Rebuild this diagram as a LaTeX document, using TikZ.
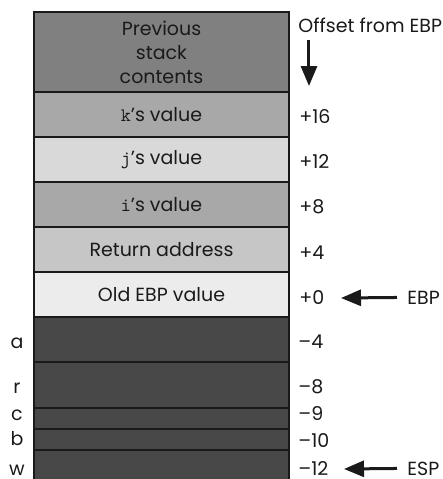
\documentclass[tikz,border=0pt]{standalone}
\usepackage{fontspec}
\setmainfont{Poppins}
\usetikzlibrary{positioning,arrows.meta}
\definecolor{ink}      {HTML}{1A1A1A}
\definecolor{oldstack} {HTML}{808080}
\definecolor{argdark}  {HTML}{A8A8A8}
\definecolor{arglight} {HTML}{D9D9D9}
\definecolor{retfill}  {HTML}{C6C6C6}
\definecolor{ebpfill}  {HTML}{ECECEC}
\definecolor{localfill}{HTML}{484848}
\tikzset{
  every node/.style={font=\fontsize{9.5}{12}\selectfont, text=ink},
  % --- nodes
  cell/.style  = {draw=ink, line width=1pt, minimum width=127.5pt, outer sep=0pt,
                  inner sep=0pt, align=center},
  slot/.style  = {cell, minimum height=22.5pt},
  local/.style = {cell, fill=localfill},
  off/.style   = {inner sep=0pt, anchor=base west},
  var/.style   = {inner sep=0pt, anchor=base},
  % --- edges
  ptr/.style   = {-{Triangle[length=10pt,width=8pt]}, line width=1.5pt, draw=ink},
}
\begin{document}
\begin{tikzpicture}[x=0.5pt,y=-0.5pt]
  \clip (0,0) rectangle (443,479);
  \fill[white] (0,0) rectangle (443,479);
  % stack frame
  \node[cell, fill=oldstack, minimum height=40pt] (prev) at (161.5,52) {Previous\\stack\\contents};
  \node[slot, fill=argdark,  below=0pt of prev] (kval) {\texttt{k}’s value};
  \node[slot, fill=arglight, below=0pt of kval] (jval) {\texttt{j}’s value};
  \node[slot, fill=argdark,  below=0pt of jval] (ival) {\texttt{i}’s value};
  \node[slot, fill=retfill,  below=0pt of ival] (ret) {Return address};
  \node[slot, fill=ebpfill,  below=0pt of ret] (oldebp) {Old EBP value};
  \node[local, minimum height=22.5pt,  below=0pt of oldebp] (avar) {};
  \node[local, minimum height=23pt,    below=0pt of avar] (rvar) {};
  \node[local, minimum height=10.25pt, below=0pt of rvar] (cvar) {};
  \node[local, minimum height=10.75pt, below=0pt of cvar] (bvar) {};
  \node[local, minimum height=20pt,    below=0pt of bvar] (wvar) {};
  % offsets
  \node[off] (title) at (298,32) {Offset from EBP};
  \node[off] (o16) at (299,123) {+16};
  \node[off] (o12) at (299,168) {+12};
  \node[off] (o8)  at (299,213) {+8};
  \node[off] (o4)  at (299,259) {+4};
  \node[off] (o0)  at (299,304) {+0};
  \node[off] (m4)  at (298,348) {--4};
  \node[off] (m8)  at (298,393) {--8};
  \node[off] (m9)  at (298,420) {--9};
  \node[off] (m10) at (298,447) {--10};
  \node[off] (m12) at (298,475) {--12};
  % variable names
  \node[var] (na) at (17,348) {a};
  \node[var] (nr) at (17,393) {r};
  \node[var] (nc) at (17,420) {c};
  \node[var] (nb) at (17,445) {b};
  \node[var] (nw) at (17,475) {w};
  % registers
  \node[off] (ebp) at (407,304) {EBP};
  \node[off] (esp) at (407,475) {ESP};
  \coordinate (dtop) at (309,40);
  \coordinate (dtip) at (309,86);
  \coordinate (ebptip) at (341,298);
  \coordinate (esptip) at (344,469);
  \draw[ptr] (dtop) -- (dtip);
  \draw[ptr, shorten <=5pt] (ebp.west) -- (ebptip);
  \draw[ptr, shorten <=5pt] (esp.west) -- (esptip);
\end{tikzpicture}
\end{document}
